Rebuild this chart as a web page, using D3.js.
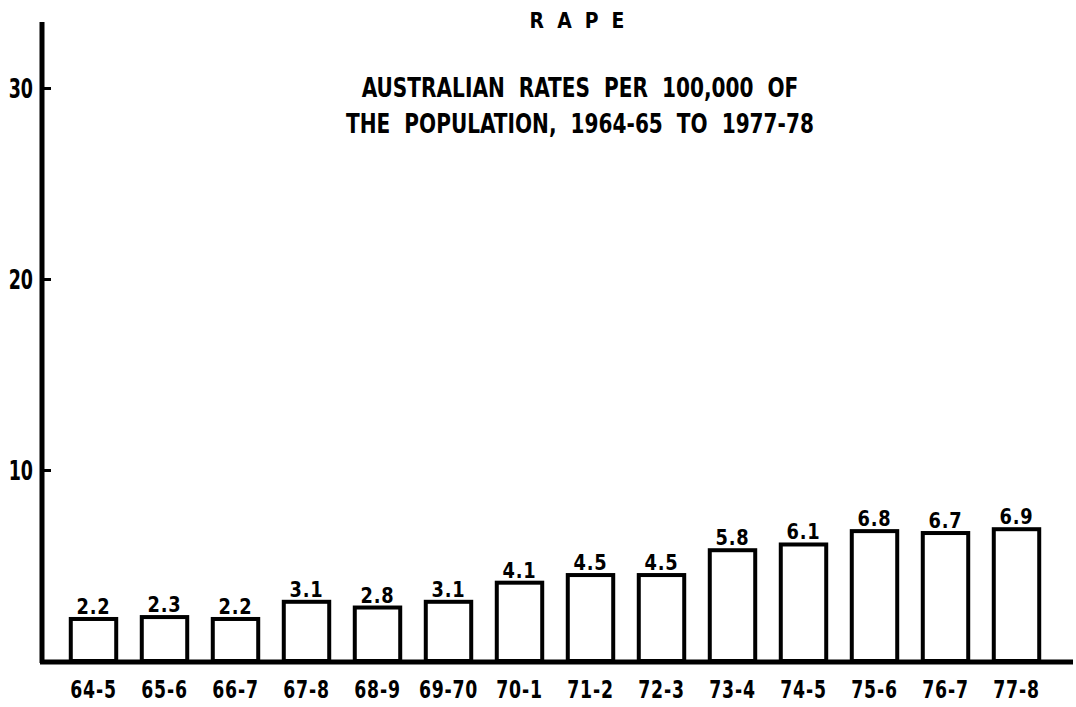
<!DOCTYPE html>
<html>
<head>
<meta charset="utf-8">
<script src="https://cdn.jsdelivr.net/npm/d3@7"></script>
<style>
  body { margin: 0; background: #fff; }
  svg { display: block; }
  text { font-family: "DejaVu Sans Condensed", "DejaVu Sans", sans-serif; font-weight: bold; fill: #000; }
</style>
</head>
<body>
<div id="chart"></div>
<script>
var periods = ['64-5', '65-6', '66-7', '67-8', '68-9', '69-70', '70-1',
  '71-2', '72-3', '73-4', '74-5', '75-6', '76-7', '77-8'];
var rates = [2.2, 2.3, 2.2, 3.1, 2.8, 3.1, 4.1, 4.5, 4.5, 5.8, 6.1, 6.8, 6.7, 6.9];
var rateLabels = ['2.2', '2.3', '2.2', '3.1', '2.8', '3.1', '4.1', '4.5', '4.5',
  '5.8', '6.1', '6.8', '6.7', '6.9'];
var yTicks = [10, 20, 30];
var titleText = 'R A P E';
var subtitleLines = ['AUSTRALIAN  RATES  PER  100,000  OF',
  'THE  POPULATION,  1964-65  TO  1977-78'];

var width = 1076, height = 707;
var axisX = 42, baseY = 661;

// the typed labels are tall and narrow: squeeze text horizontally
function squeeze(sel, sx) {
  sel.each(function() {
    var t = d3.select(this);
    var tx = +t.attr('x') || 0, ty = +t.attr('y') || 0;
    t.attr('x', 0).attr('y', 0)
      .attr('transform', 'translate(' + tx + ',' + ty + ') scale(' + sx + ',1)');
  });
}

var svg = d3.select('#chart').append('svg')
  .attr('width', width)
  .attr('height', height);

var x = d3.scaleBand()
  .domain(periods)
  .range([58, 1052])
  .paddingInner(0.36)
  .paddingOuter(0.18);

var y = d3.scaleLinear()
  .domain([0, 30])
  .range([baseY, 88]);

// bars
svg.append('g').selectAll('rect')
  .data(rates)
  .join('rect')
  .attr('x', function(d, i) { return x(periods[i]); })
  .attr('y', function(d) { return y(d); })
  .attr('width', x.bandwidth())
  .attr('height', function(d) { return y(0) - y(d); })
  .attr('fill', '#fff')
  .attr('stroke', '#000')
  .attr('stroke-width', 4);

// value labels
var valueText = svg.append('g').selectAll('text')
  .data(rates)
  .join('text')
  .attr('x', function(d, i) { return x(periods[i]) + x.bandwidth() / 2; })
  .attr('y', function(d) { return y(d) - 5; })
  .attr('text-anchor', 'middle')
  .style('font-size', '22px')
  .style('letter-spacing', '1px')
  .text(function(d, i) { return rateLabels[i]; });
squeeze(valueText, 0.9);

// y axis, ticks pointing into the plot
var yAxis = d3.axisLeft(y)
  .tickValues(yTicks)
  .tickSizeInner(-9)
  .tickSizeOuter(0)
  .tickPadding(9)
  .tickFormat(d3.format('d'));

var yAxisG = svg.append('g')
  .attr('transform', 'translate(' + axisX + ',0)')
  .call(yAxis);
yAxisG.select('.domain').remove();
yAxisG.selectAll('.tick line').attr('stroke', '#000').attr('stroke-width', 3);
var yLabels = yAxisG.selectAll('.tick text')
  .attr('font-family', null)
  .attr('font-size', null)
  .style('font-size', '27px')
  .attr('dy', '0.36em');
squeeze(yLabels, 0.72);

svg.append('line')
  .attr('x1', axisX).attr('x2', axisX)
  .attr('y1', 22).attr('y2', baseY + 2)
  .attr('stroke', '#000')
  .attr('stroke-width', 5);

// x axis baseline and category labels
var xAxis = d3.axisBottom(x).tickSize(0).tickPadding(20);
var xAxisG = svg.append('g')
  .attr('transform', 'translate(0,' + baseY + ')')
  .call(xAxis);
xAxisG.select('.domain').remove();
var xLabels = xAxisG.selectAll('.tick text')
  .attr('font-family', null)
  .attr('font-size', null)
  .style('font-size', '24px')
  .style('letter-spacing', '1px');
squeeze(xLabels, 0.8);

svg.append('line')
  .attr('x1', axisX - 2).attr('x2', 1073)
  .attr('y1', baseY + 1).attr('y2', baseY + 1)
  .attr('stroke', '#000')
  .attr('stroke-width', 5);

// titles
var title = svg.append('text')
  .attr('x', 577)
  .attr('y', 28)
  .attr('text-anchor', 'middle')
  .style('font-size', '22px')
  .style('white-space', 'pre')
  .text(titleText.split(' ').join('  '));
squeeze(title, 0.95);

var subtitle = svg.append('g').selectAll('text')
  .data(subtitleLines)
  .join('text')
  .attr('x', 580)
  .attr('y', function(d, i) { return 97 + i * 36; })
  .attr('text-anchor', 'middle')
  .style('font-size', '26px')
  .style('white-space', 'pre')
  .text(function(d) { return d; });
squeeze(subtitle, 0.86);
</script>
</body>
</html>
